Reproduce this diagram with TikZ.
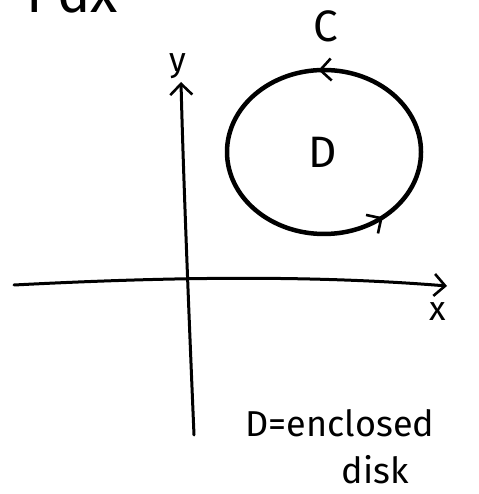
\documentclass[tikz,border=0pt]{standalone}
\usepackage{fontspec}
\setmainfont{Fira Sans}
\usetikzlibrary{arrows.meta,decorations.markings}
\tikzset{
  barb/.tip={Straight Barb[length=11pt,width=22pt,line width=2.6pt]},
  axis/.style={line width=3pt, line cap=round, -barb},
  curve/.style={line width=4.5pt},
  hand/.style={font=\fontsize{36}{40}\selectfont},
  big/.style={font=\fontsize{44}{48}\selectfont},
  small/.style={font=\fontsize{34}{38}\selectfont},
}
\begin{document}
\begin{tikzpicture}[x=1pt,y=1pt]
\useasboundingbox (0,0) rectangle (478,494);
\begin{scope}
\clip (0,0) rectangle (478,494);
\node[anchor=south west, font=\fontsize{56}{60}\selectfont, inner sep=0pt, text depth=0pt] (topt) at (26,481) {Pdx};
\end{scope}
% axes
\coordinate (yb) at (194,59);
\coordinate (yt) at (181,412);
\draw[axis] (yb) .. controls (188,200) and (183,330) .. (yt);
\coordinate (xl) at (14,209);
\coordinate (xr) at (447,208);
\draw[axis] (xl) .. controls (150,216) and (300,220) .. (xr);
\node[small] (ylab) at (178,428) {y};
\node[small] (xlab) at (438,182) {x};
% circle
\node[draw=none, minimum width=194pt, minimum height=164pt, inner sep=0] (circ) at (324,342) {};
\draw[curve, postaction={decorate}, decoration={markings,
  mark=at position 0.26 with {\arrow{barb}},
  mark=at position 0.86 with {\arrow{barb}}}]
  (circ.center) ++(97,0) arc[start angle=0,end angle=360,x radius=97,y radius=82];
\node[big] (C) at (326,468) {C};
\node[big] (D) at (323,342) {D};
% caption
\node[hand] (cap1) at (340,71) {D=enclosed};
\node[hand] (cap2) at (375,24) {disk};
\end{tikzpicture}
\end{document}
